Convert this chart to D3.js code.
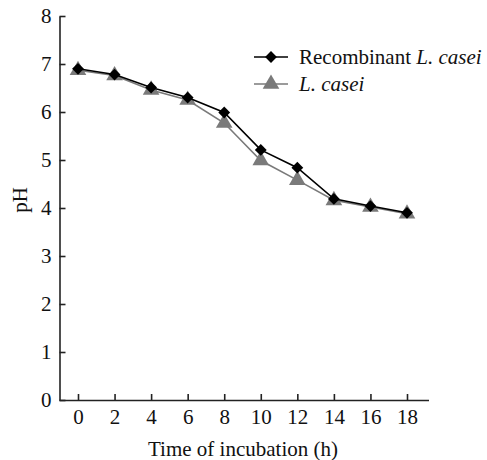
<!DOCTYPE html>
<html>
<head>
<meta charset="utf-8">
<script src="https://cdn.jsdelivr.net/npm/d3@7"></script>
<style>
  body { margin: 0; background: #fff; }
  text { font-family: "Liberation Serif", "Times New Roman", serif; fill: #111; }
</style>
</head>
<body>
<script>
// Données
const hours = [0, 2, 4, 6, 8, 10, 12, 14, 16, 18]
const recombinant = [6.9, 6.78, 6.51, 6.3, 5.99, 5.21, 4.84, 4.19, 4.04, 3.9]
const casei = [6.87, 6.76, 6.46, 6.25, 5.77, 4.99, 4.58, 4.16, 4.02, 3.88]
const yTicks = [0, 1, 2, 3, 4, 5, 6, 7, 8]

const width = 487, height = 460

const svg = d3.select('body').append('svg')
    .attr('width', width)
    .attr('height', height)

// Échelles
const x = d3.scaleLinear().domain([0, 18]).range([78, 407])
const y = d3.scaleLinear().domain([0, 8]).range([400, 16])

// Axe X (ticks vers l'intérieur)
const xAxis = svg.append('g')
    .attr('transform', `translate(0, ${y(0)})`)
    .call(d3.axisBottom(x).tickValues(hours).tickSize(-6).tickPadding(9).tickSizeOuter(0))
xAxis.select('.domain').attr('d', `M59.5,0.5H429`)
xAxis.selectAll('text').style('font-size', '21px').attr('font-family', null)
xAxis.selectAll('line, path').attr('stroke', '#222').attr('stroke-width', 1.6)

// Axe Y
const yAxis = svg.append('g')
    .attr('transform', 'translate(59.5, 0)')
    .call(d3.axisLeft(y).tickValues(yTicks).tickSize(-6).tickPadding(8).tickSizeOuter(0))
yAxis.selectAll('text').style('font-size', '21px').attr('font-family', null)
yAxis.selectAll('line, path').attr('stroke', '#222').attr('stroke-width', 1.6)

// Titres des axes
svg.append('text')
    .attr('x', 243)
    .attr('y', 456)
    .attr('text-anchor', 'middle')
    .style('font-size', '21px')
    .text('Time of incubation (h)')

svg.append('text')
    .attr('transform', 'translate(27, 200) rotate(-90)')
    .attr('text-anchor', 'middle')
    .style('font-size', '21px')
    .text('pH')

const line = d3.line()
    .x((d, i) => x(hours[i]))
    .y(d => y(d))

// Losange = carré tourné de 45°
const diamond = (size) => d3.symbol().type(d3.symbolSquare).size(size)
const triangle = (size) => d3.symbol().type(d3.symbolTriangle).size(size)

const series = [
    { values: casei, color: '#7a7a7a', shape: triangle(120), rot: 0 },
    { values: recombinant, color: '#000', shape: diamond(70), rot: 45 }
]

// Courbes et marqueurs
series.forEach(s => {
    svg.append('path')
        .datum(s.values)
        .attr('d', line)
        .attr('fill', 'none')
        .attr('stroke', s.color)
        .attr('stroke-width', 1.6)

    svg.append('g')
        .selectAll('path')
        .data(s.values)
        .join('path')
        .attr('transform', (d, i) => `translate(${x(hours[i])}, ${y(d)}) rotate(${s.rot})`)
        .attr('d', s.shape)
        .attr('fill', s.color)
})

// Légende
const legend = svg.append('g')
const legendRows = [
    { label: ['Recombinant ', 'L. casei'], color: '#000', shape: diamond(70), rot: 45, y: 57 },
    { label: ['', 'L. casei'], color: '#7a7a7a', shape: triangle(120), rot: 0, y: 84 }
]
legendRows.forEach(r => {
    legend.append('line')
        .attr('x1', 254).attr('x2', 288)
        .attr('y1', r.y).attr('y2', r.y)
        .attr('stroke', r.color)
        .attr('stroke-width', 1.6)
    legend.append('path')
        .attr('transform', `translate(271, ${r.y}) rotate(${r.rot})`)
        .attr('d', r.shape)
        .attr('fill', r.color)
    const t = legend.append('text')
        .attr('x', 299)
        .attr('y', r.y + 7)
        .style('font-size', '21px')
    t.append('tspan').text(r.label[0])
    t.append('tspan').style('font-style', 'italic').text(r.label[1])
})
</script>
</body>
</html>
